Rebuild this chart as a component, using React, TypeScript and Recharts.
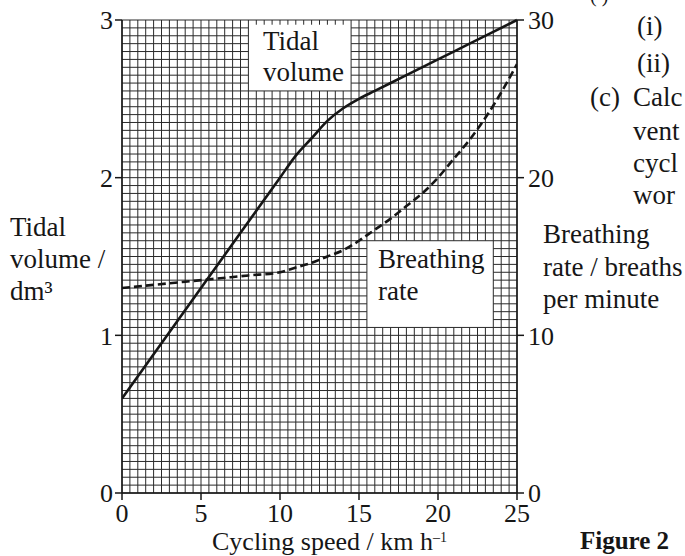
import { ComposedChart, Line, XAxis, YAxis, ReferenceLine } from 'recharts';

// axis ticks
const speedTicks = [0, 5, 10, 15, 20, 25];
const volumeTicks = [0, 1, 2, 3];
const rateTicks = [0, 10, 20, 30];

// tidal volume (dm3) against cycling speed (km/h)
const tidalSpeed = [0, 5, 10, 11, 12, 13, 14, 15, 16, 18, 20, 22, 25];
const tidalVolume = [0.6, 1.3, 2.0, 2.14, 2.25, 2.36, 2.44, 2.5, 2.55, 2.65, 2.75, 2.85, 3.0];

// breathing rate (breaths per minute) against cycling speed
const breathSpeed = [0, 2, 4, 6, 8, 10, 11, 12, 13, 14, 15, 16, 17, 18, 19, 20, 21, 22, 23, 24, 25];
const breathRate = [13, 13.2, 13.4, 13.6, 13.8, 14.0, 14.3, 14.6, 15.0, 15.4, 16.0, 16.7, 17.4, 18.2, 19.0, 20.0, 21.2, 22.4, 23.8, 25.4, 27.2];

// graph paper: 0.5 km/h by 0.05 dm3 squares
const gridX = Array.from({ length: 51 }, (_, i) => i * 0.5);
const gridY = Array.from({ length: 61 }, (_, i) => +(i * 0.05).toFixed(2));

// blank patches of graph paper behind the two curve labels (speed / dm3 units)
const patches = [
    { x1: 8, x2: 14.5, y1: 2.55, y2: 2.97 },
    { x1: 15.5, x2: 23.5, y1: 1.05, y2: 1.6 },
];

const tidalData = tidalSpeed.map((x, i) => ({ x, y: tidalVolume[i] }));
const breathData = breathSpeed.map((x, i) => ({ x, y: breathRate[i] }));

// split [lo, hi] around the holes
const pieces = (lo: number, hi: number, holes: number[][]) => {
    let out = [[lo, hi]];
    holes.forEach(([a, b]) => {
        const next: number[][] = [];
        out.forEach(([s, e]) => {
            if (b <= s || a >= e) next.push([s, e]);
            else {
                if (a > s) next.push([s, a]);
                if (b < e) next.push([b, e]);
            }
        });
        out = next;
    });
    return out;
};

const vSegs = gridX.flatMap((x) =>
    pieces(0, 3, patches.filter((p) => x > p.x1 && x < p.x2).map((p) => [p.y1, p.y2])).map(([a, b]) => [
        { x, y: a },
        { x, y: b },
    ])
);
const hSegs = gridY.flatMap((y) =>
    pieces(0, 25, patches.filter((p) => y > p.y1 && y < p.y2).map((p) => [p.x1, p.x2])).map(([a, b]) => [
        { x: a, y },
        { x: b, y },
    ])
);

const serif = '"Liberation Serif", "Times New Roman", serif';
const ink = '#161616';
const tickStyle = { fill: ink, fontSize: 26, fontFamily: serif };

const App = () => {
    return (
        <div style={{ position: 'absolute', left: 0, top: 0, width: 685, height: 556, background: '#fff' }}>
            <ComposedChart width={685} height={556} margin={{ top: 20, right: 0, bottom: 0, left: 0 }}>
                <XAxis
                    type="number"
                    dataKey="x"
                    domain={[0, 25]}
                    ticks={speedTicks}
                    height={63}
                    tickSize={7}
                    tickMargin={4}
                    tick={tickStyle}
                    stroke={ink}
                    strokeWidth={1.5}
                    allowDataOverflow
                />
                <YAxis
                    yAxisId="left"
                    domain={[0, 3]}
                    ticks={volumeTicks}
                    width={122}
                    tickSize={7}
                    tickMargin={2}
                    tick={tickStyle}
                    stroke={ink}
                    strokeWidth={1.5}
                />
                <YAxis
                    yAxisId="right"
                    orientation="right"
                    domain={[0, 30]}
                    ticks={rateTicks}
                    width={168}
                    tickSize={7}
                    tickMargin={4}
                    tick={tickStyle}
                    stroke={ink}
                    strokeWidth={1.5}
                />
                {vSegs.map((seg, i) => (
                    <ReferenceLine key={'v' + i} yAxisId="left" segment={seg} stroke="#2a2a2a" strokeWidth={1} />
                ))}
                {hSegs.map((seg, i) => (
                    <ReferenceLine key={'h' + i} yAxisId="left" segment={seg} stroke="#2a2a2a" strokeWidth={1} />
                ))}
                <Line
                    yAxisId="left"
                    data={tidalData}
                    dataKey="y"
                    type="monotone"
                    stroke={ink}
                    strokeWidth={2.6}
                    dot={false}
                    isAnimationActive={false}
                />
                <Line
                    yAxisId="right"
                    data={breathData}
                    dataKey="y"
                    type="monotone"
                    stroke={ink}
                    strokeWidth={2.6}
                    strokeDasharray="8 4"
                    dot={false}
                    isAnimationActive={false}
                />
            </ComposedChart>
            <svg
                width={685}
                height={556}
                style={{ position: 'absolute', left: 0, top: 0, pointerEvents: 'none' }}
                fontFamily={serif}
                fontSize={27}
                fill={ink}
            >
                <text x={263} y={50}>Tidal</text>
                <text x={263} y={81}>volume</text>
                <text x={378} y={268}>Breathing</text>
                <text x={378} y={300}>rate</text>
                <text x={10} y={236}>Tidal</text>
                <text x={10} y={268}>volume /</text>
                <text x={10} y={300}>dm³</text>
                <text x={543} y={243}>Breathing</text>
                <text x={543} y={276}>rate / breaths</text>
                <text x={543} y={308}>per minute</text>
                <text x={212} y={550} fontSize={26}>
                    Cycling speed / km h<tspan fontSize={14} dy={-8}>–1</tspan>
                </text>
                <text x={580} y={549} fontWeight="bold" fontSize={25}>Figure 2</text>
                <text x={590} y={2} fontSize={20}>( )</text>
                <text x={637} y={35}>(i)</text>
                <text x={637} y={72}>(ii)</text>
                <text x={590} y={106}>(c)</text>
                <text x={633} y={106}>Calc</text>
                <text x={633} y={140}>vent</text>
                <text x={633} y={172}>cycl</text>
                <text x={633} y={204}>wor</text>
            </svg>
        </div>
    );
};

export default App;
